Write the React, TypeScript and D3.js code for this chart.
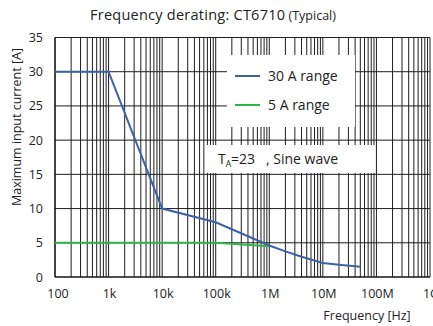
import React from "react";
import * as d3 from "d3";

// Frequency derating curves (frequency in Hz, current in A)
const range30Freq = [100, 1e3, 1e4, 1e5, 1e6, 2e6, 4e6, 1e7, 2e7, 5e7];
const range30Amps = [30, 30, 10, 8, 4.6, 3.75, 2.95, 2.05, 1.8, 1.5];
const range5Freq = [100, 1e5, 1e6];
const range5Amps = [5, 5, 4.5];

const xTickValues = [1e2, 1e3, 1e4, 1e5, 1e6, 1e7, 1e8, 1e9];
const xTickLabels = ["100", "1k", "10k", "100k", "1M", "10M", "100M", "1G"];
const yTickValues = [0, 5, 10, 15, 20, 25, 30, 35];

const legendNames = ["30 A range", "5 A range"];
const seriesColors = ["#3c62a6", "#2fb34b"];

const W = 433;
const H = 326;
const FONT = "'Open Sans', 'Noto Sans', sans-serif";

export default function App() {
  const x = d3.scaleLog().domain([1e2, 1e9]).range([55, 430]);
  const y = d3.scaleLinear().domain([0, 35]).range([277, 37.5]);

  const minorTicks: number[] = [];
  for (let e = 2; e < 9; e++) {
    for (let m = 1; m <= 9; m++) minorTicks.push(m * Math.pow(10, e));
  }
  minorTicks.push(1e9);

  const line = d3
    .line<[number, number]>()
    .x((d) => x(d[0]))
    .y((d) => y(d[1]));

  const s30 = range30Freq.map((f, i) => [f, range30Amps[i]] as [number, number]);
  const s5 = range5Freq.map((f, i) => [f, range5Amps[i]] as [number, number]);

  const gridColor = "#1e1e1e";

  return (
    <svg
      width={W}
      height={H}
      style={{ position: "absolute", left: 0, top: 0, background: "#fff" }}
      fontFamily={FONT}
    >
      {/* title */}
      <text x={90} y={20} fontSize={14.5} letterSpacing={0.25} fill="#222">
        Frequency derating: CT6710
        <tspan fontSize={12.5} letterSpacing={0}> (Typical)</tspan>
      </text>

      {/* vertical grid */}
      {minorTicks.map((t, i) => (
        <line
          key={"v" + i}
          x1={x(t)}
          x2={x(t)}
          y1={y(35)}
          y2={y(0)}
          stroke={gridColor}
          strokeWidth={1}
        />
      ))}
      {/* horizontal grid */}
      {yTickValues.map((t) => (
        <line
          key={"h" + t}
          x1={x(1e2)}
          x2={x(1e9)}
          y1={y(t)}
          y2={y(t)}
          stroke={gridColor}
          strokeWidth={1}
        />
      ))}
      <line x1={x(1e2)} x2={x(1e9)} y1={y(0)} y2={y(0)} stroke="#111" strokeWidth={1.2} />
      <line x1={x(1e2)} x2={x(1e2)} y1={y(35)} y2={y(0)} stroke="#111" strokeWidth={1.2} />

      {/* y tick labels */}
      {yTickValues.map((t) => (
        <text
          key={"yl" + t}
          x={43}
          y={y(t) + 4.5}
          textAnchor="end"
          fontSize={12.5}
          fill="#222"
        >
          {t}
        </text>
      ))}
      {/* x tick labels */}
      {xTickValues.map((t, i) => (
        <text
          key={"xl" + t}
          x={x(t) + (i === 0 ? 3 : 1)}
          y={298}
          textAnchor="middle"
          fontSize={12.5}
          fill="#222"
        >
          {xTickLabels[i]}
        </text>
      ))}

      {/* axis titles */}
      <text
        transform="translate(21,127) rotate(-90)"
        textAnchor="middle"
        fontSize={12.5}
        fill="#222"
      >
        Maximum input current [A]
      </text>
      <text x={367} y={320} textAnchor="middle" fontSize={12.5} fill="#222">
        Frequency [Hz]
      </text>

      {/* data lines */}
      <path d={line(s5) || ""} fill="none" stroke={seriesColors[1]} strokeWidth={2} />
      <path d={line(s30) || ""} fill="none" stroke={seriesColors[0]} strokeWidth={2} />

      {/* legend */}
      <rect x={227} y={55} width={128} height={72} fill="#fff" />
      {legendNames.map((name, i) => (
        <g key={name} transform={`translate(235,${76 + i * 29})`}>
          <line x1={0} x2={25} y1={0} y2={0} stroke={seriesColors[i]} strokeWidth={2} />
          <text x={33} y={5} fontSize={14} fill="#222">
            {name}
          </text>
        </g>
      ))}

      {/* measurement condition note */}
      <rect x={205} y={145} width={170} height={28} fill="#fff" />
      <text x={218} y={164} fontSize={14} fill="#222" xmlSpace="preserve">
        T
        <tspan fontSize={8.5} dy={3}>A</tspan>
        <tspan dy={-3}>{"=23   , Sine wave"}</tspan>
      </text>
    </svg>
  );
}
